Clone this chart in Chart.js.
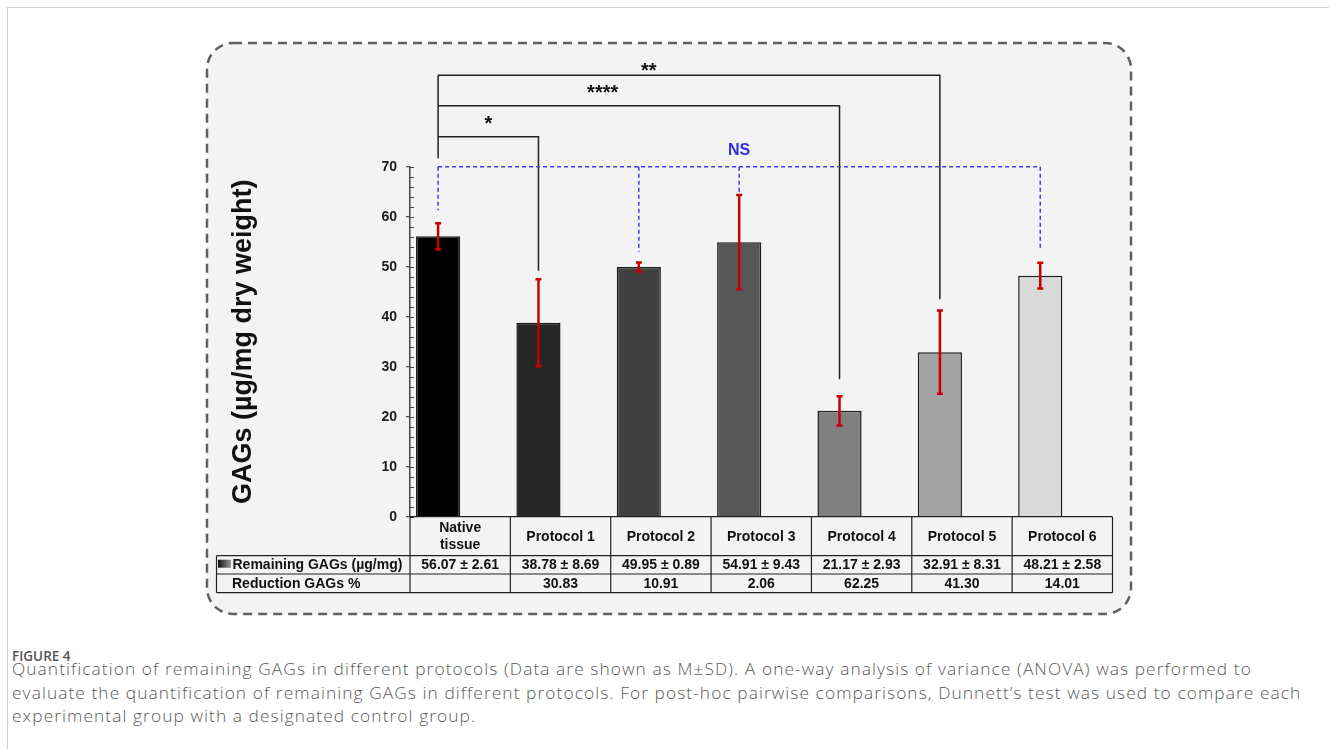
<!DOCTYPE html>
<html>
<head>
<meta charset="utf-8">
<script src="https://cdn.jsdelivr.net/npm/chart.js@4"></script>
<style>
  html, body { margin: 0; padding: 0; background: #fff; }
  body { width: 1329px; height: 749px; position: relative; overflow: hidden; }
  #frame { position: absolute; left: 7px; top: 7px; right: 0; bottom: 0;
           border-top: 1.5px solid #d2d2d2; border-left: 1.5px solid #d2d2d2; }
  #wrap { position: absolute; left: 0; top: 0; width: 1329px; height: 625px; }
  .fig { position: absolute; left: 12px; top: 648px; font-family: "Open Sans", sans-serif;
         font-size: 13.5px; font-weight: 600; line-height: 16px; color: #555; white-space: nowrap; }
  .txt { position: absolute; left: 12px; top: 658px; font-family: "Open Sans", sans-serif;
         font-size: 16px; font-weight: 300; letter-spacing: 1px; line-height: 23.5px;
         color: #5a5a5a; white-space: nowrap; transform: scaleX(1.082); transform-origin: 0 0; }
</style>
</head>
<body>
<div id="frame"></div>
<div id="wrap"><canvas id="myChart" width="1329" height="625"></canvas></div>
<div class="fig">FIGURE 4</div>
<div class="txt">Quantification of remaining GAGs in different protocols (Data are shown as M±SD). A one-way analysis of variance (ANOVA) was performed to<br>evaluate the quantification of remaining GAGs in different protocols. For post-hoc pairwise comparisons, Dunnett’s test was used to compare each<br>experimental group with a designated control group.</div>
<script>
const groups = [['Native', 'tissue'], 'Protocol 1', 'Protocol 2', 'Protocol 3', 'Protocol 4', 'Protocol 5', 'Protocol 6'];
const means = [56.07, 38.78, 49.95, 54.91, 21.17, 32.91, 48.21];
const sds = [2.61, 8.69, 0.89, 9.43, 2.93, 8.31, 2.58];
const reduction = [null, 30.83, 10.91, 2.06, 62.25, 41.30, 14.01];
const barColors = ['#000000', '#262626', '#404040', '#575757', '#808080', '#a3a3a3', '#d9d9d9'];
const yTicks = [0, 10, 20, 30, 40, 50, 60, 70];

// brackets against native tissue (values in µg/mg)
const sigTargets = [1, 4, 5];
const sigLevels = [76, 82.2, 88.3];
const sigDropEnds = [49.2, 27.5, 43.5];
const sigLabels = ['*', '****', '**'];
const sigLabelPos = [0.5, 0.41, 0.42];
const sigLabelAt = [77.3, 83.5, 87.9];
const nativeDropEnd = 71.7;

// NS bracket (dashed blue)
const nsTargets = [0, 2, 3, 6];
const nsLevel = 70;
const nsDropEnds = [61.3, 53.0, 64.4, 53.3];
const nsLabelAt = 72.3;

const rowLabels = ['Remaining GAGs (µg/mg)', 'Reduction GAGs %'];

const boxPlugin = {
    id: 'box',
    beforeDraw(chart) {
        const c = chart.ctx;
        c.save();
        c.beginPath();
        c.roundRect(207, 43, 924, 571, 26);
        c.fillStyle = '#f3f3f3';
        c.fill();
        c.setLineDash([9, 6]);
        c.lineWidth = 2.5;
        c.strokeStyle = '#606060';
        c.stroke();
        c.restore();
    }
};

const errorPlugin = {
    id: 'errors',
    afterDatasetsDraw(chart) {
        const c = chart.ctx;
        const y = chart.scales.y;
        const bars = chart.getDatasetMeta(0).data;
        c.save();
        c.strokeStyle = '#c80000';
        c.lineWidth = 2.5;
        bars.forEach((b, i) => {
            const top = y.getPixelForValue(means[i] + sds[i]);
            const bot = y.getPixelForValue(means[i] - sds[i]);
            c.beginPath();
            c.moveTo(b.x, top); c.lineTo(b.x, bot);
            c.moveTo(b.x - 3, top); c.lineTo(b.x + 3, top);
            c.moveTo(b.x - 3, bot); c.lineTo(b.x + 3, bot);
            c.stroke();
        });
        c.restore();
    }
};

const annotPlugin = {
    id: 'annot',
    afterDraw(chart) {
        const c = chart.ctx;
        const y = chart.scales.y;
        const bars = chart.getDatasetMeta(0).data;
        const x0 = bars[0].x;
        c.save();
        // minor ticks on the inner side of the y axis
        const ax = chart.chartArea.left;
        c.strokeStyle = '#444';
        c.lineWidth = 1.2;
        c.beginPath();
        for (let v = 0; v <= 70; v += 2) {
            const py = Math.round(y.getPixelForValue(v)) + 0.5;
            c.moveTo(ax, py); c.lineTo(ax + 4, py);
        }
        c.stroke();

        // significance brackets
        c.strokeStyle = '#222';
        c.lineWidth = 1.5;
        c.beginPath();
        c.moveTo(x0, y.getPixelForValue(Math.max(...sigLevels)));
        c.lineTo(x0, y.getPixelForValue(nativeDropEnd));
        sigTargets.forEach((t, k) => {
            const ly = y.getPixelForValue(sigLevels[k]);
            const xt = bars[t].x;
            c.moveTo(x0, ly); c.lineTo(xt, ly);
            c.lineTo(xt, y.getPixelForValue(sigDropEnds[k]));
        });
        c.stroke();
        c.fillStyle = '#111';
        c.font = 'bold 20px Arial';
        c.textAlign = 'center';
        c.textBaseline = 'alphabetic';
        sigTargets.forEach((t, k) => {
            const lx = x0 + (bars[t].x - x0) * sigLabelPos[k];
            c.fillText(sigLabels[k], lx, y.getPixelForValue(sigLabelAt[k]));
        });

        // NS bracket
        c.strokeStyle = '#3c3cec';
        c.lineWidth = 1.5;
        c.setLineDash([4, 3]);
        c.beginPath();
        const ny = y.getPixelForValue(nsLevel);
        c.moveTo(bars[nsTargets[0]].x, ny);
        c.lineTo(bars[nsTargets[nsTargets.length - 1]].x, ny);
        nsTargets.forEach((t, k) => {
            c.moveTo(bars[t].x, ny);
            c.lineTo(bars[t].x, y.getPixelForValue(nsDropEnds[k]));
        });
        c.stroke();
        c.setLineDash([]);
        c.fillStyle = '#2f2fe6';
        c.font = 'bold 16px Arial';
        c.fillText('NS', bars[3].x, y.getPixelForValue(nsLabelAt));
        c.restore();
    }
};

const tablePlugin = {
    id: 'table',
    afterDraw(chart) {
        const c = chart.ctx;
        const x = chart.scales.x;
        const { bottom } = chart.chartArea;
        const edges = groups.map((g, i) => x.getPixelForValue(i - 0.5));
        edges.push(x.getPixelForValue(groups.length - 0.5));
        const tableLeft = 216.5;
        const r0 = bottom, r1 = bottom + 39, r2 = r1 + 18.3, r3 = r2 + 18.7;
        const right = edges[edges.length - 1];
        c.save();
        c.strokeStyle = '#222';
        c.lineWidth = 1.2;
        c.beginPath();
        c.moveTo(edges[0], r0); c.lineTo(right, r0);
        [r1, r2, r3].forEach(r => { c.moveTo(tableLeft, r); c.lineTo(right, r); });
        edges.forEach(e => { c.moveTo(e, r0); c.lineTo(e, r3); });
        c.moveTo(tableLeft, r1); c.lineTo(tableLeft, r3);
        c.stroke();

        c.fillStyle = '#111';
        c.font = 'bold 14px Arial';
        c.textAlign = 'center';
        c.textBaseline = 'middle';
        groups.forEach((g, i) => {
            const cx = (edges[i] + edges[i + 1]) / 2;
            if (Array.isArray(g)) {
                c.fillText(g[0], cx, (r0 + r1) / 2 - 8.5);
                c.fillText(g[1], cx, (r0 + r1) / 2 + 8.5);
            } else {
                c.fillText(g, cx, (r0 + r1) / 2 + 0.5);
            }
            c.fillText(means[i].toFixed(2) + ' ± ' + sds[i].toFixed(2), cx, (r1 + r2) / 2 + 0.5);
            if (reduction[i] !== null) c.fillText(reduction[i].toFixed(2), cx, (r2 + r3) / 2 + 0.5);
        });
        c.textAlign = 'left';
        c.fillText(rowLabels[0], 232.5, (r1 + r2) / 2 + 0.5);
        c.fillText(rowLabels[1], 232, (r2 + r3) / 2 + 0.5);
        const grad = c.createLinearGradient(218, 0, 231, 0);
        grad.addColorStop(0, '#111');
        grad.addColorStop(1, '#9a9a9a');
        c.fillStyle = grad;
        c.fillRect(218, r1 + 4, 13, 8);
        c.restore();
    }
};

const ctx = document.getElementById('myChart').getContext('2d');

const myChart = new Chart(ctx, {
    type: 'bar',
    data: {
        labels: groups,
        datasets: [{
            data: means,
            backgroundColor: barColors,
            borderColor: '#1c1c1c',
            borderWidth: 1.5,
            categoryPercentage: 0.88,
            barPercentage: 1
        }, {
            data: means.map(() => null),
            categoryPercentage: 0.88,
            barPercentage: 1
        }]
    },
    options: {
        responsive: false,
        animation: false,
        layout: {
            padding: { left: 210, right: 216.5, top: 166.7, bottom: 108.3 }
        },
        scales: {
            x: {
                display: false
            },
            y: {
                min: 0,
                max: 70,
                afterFit: s => { s.width = 200; },
                afterBuildTicks: s => { s.ticks = yTicks.map(v => ({ value: v })); },
                ticks: {
                    color: '#1a1a1a',
                    padding: 9,
                    font: { family: 'Arial', size: 14, weight: 'bold' }
                },
                grid: {
                    drawOnChartArea: false,
                    tickLength: 4,
                    color: '#444',
                    lineWidth: 1.2
                },
                border: { color: '#444', width: 1.5 },
                title: {
                    display: true,
                    text: 'GAGs (µg/mg dry weight)',
                    color: '#111',
                    font: { family: 'Arial', size: 27, weight: 'bold' },
                    padding: { top: 17, bottom: 0 }
                }
            }
        },
        plugins: {
            legend: { display: false },
            tooltip: { enabled: false }
        }
    },
    plugins: [boxPlugin, errorPlugin, annotPlugin, tablePlugin]
});
</script>
</body>
</html>
